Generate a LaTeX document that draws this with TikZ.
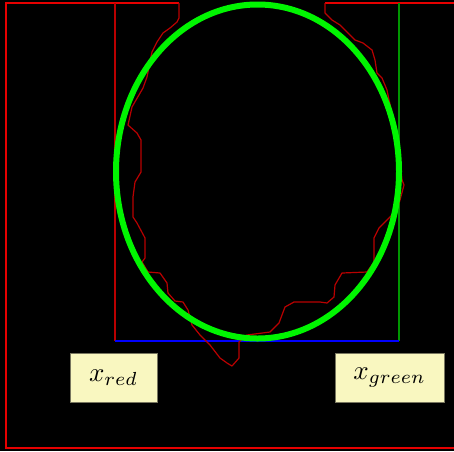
\documentclass[tikz,border=0pt]{standalone}
\usepackage{graphicx}
\usetikzlibrary{shadows}
\definecolor{framered}{RGB}{230,0,0}
\definecolor{curvered}{RGB}{185,0,0}
\definecolor{ellgreen}{RGB}{0,245,0}
\definecolor{linegreen}{RGB}{0,150,0}
\definecolor{boxfill}{RGB}{249,247,192}
\definecolor{boxedge}{RGB}{120,118,95}
\tikzset{
  labelbox/.style={draw=boxedge, line width=0.8pt, fill=boxfill, inner sep=0pt,
    drop shadow={shadow xshift=0.8pt, shadow yshift=-0.8pt, fill=boxedge!70!black, opacity=1}},
  frameline/.style={draw=framered, line width=1.6pt},
  curveline/.style={draw=curvered, line width=1.2pt, line join=round},
  guideline/.style={line width=1.4pt},
}
\begin{document}
\begin{tikzpicture}[x=1pt,y=-1pt]
\useasboundingbox (0,0) rectangle (454,451);
\clip (0,0) rectangle (454,451);
\fill[black] (0,0) rectangle (454,451);
% outer frame
\draw[frameline] (179,3) -- (6,3) -- (6,448) -- (470,448) -- (470,3) -- (325,3);
% guide lines
\draw[curveline, guideline] (115,3) -- (115,341);
\draw[draw=linegreen, guideline] (399,3) -- (399,341);
\draw[draw=blue, guideline] (115,341) -- (399,341);
% red contour
\draw[curveline] (179,3) -- (179,18) -- (177,22) -- (170,28) -- (163,33) -- (157,42) -- (152,52)
  -- (147,77) -- (143,88) -- (132,107) -- (128,125) -- (137,133) -- (141,140) -- (141,172)
  -- (135,182) -- (133,197) -- (133,217) -- (137,223) -- (145,238) -- (145,258) -- (142,262)
  -- (148,272) -- (160,273) -- (167,283) -- (168,293) -- (175,301) -- (183,302) -- (188,310)
  -- (192,325) -- (200,335) -- (210,345) -- (220,358) -- (227,363) -- (232,366) -- (239,358)
  -- (239,342) -- (247,335) -- (270,332) -- (279,323) -- (285,307) -- (294,302) -- (320,302)
  -- (327,303) -- (334,297) -- (335,285) -- (342,273) -- (367,272) -- (374,262) -- (374,238)
  -- (379,228) -- (384,223) -- (397,210) -- (400,200) -- (404,185) -- (402,180) -- (400,160)
  -- (396,130) -- (389,100) -- (387,90) -- (382,78) -- (377,73) -- (375,60) -- (372,50)
  -- (363,43) -- (355,40) -- (348,33) -- (340,25) -- (332,20) -- (325,13) -- (325,3);
% green ellipse
\draw[draw=ellgreen, line width=6pt] (257.5,171.5) ellipse [x radius=141.5, y radius=167];
% labels
\node[labelbox, minimum width=87pt, minimum height=49pt] (xred) at (113.5,377.5)
  {\scalebox{2.7}{$x_{red}$}};
\node[labelbox, minimum width=109pt, minimum height=49pt] (xgreen) at (389.5,377.5)
  {\scalebox{2.7}{$x_{green}$}};
\end{tikzpicture}
\end{document}
